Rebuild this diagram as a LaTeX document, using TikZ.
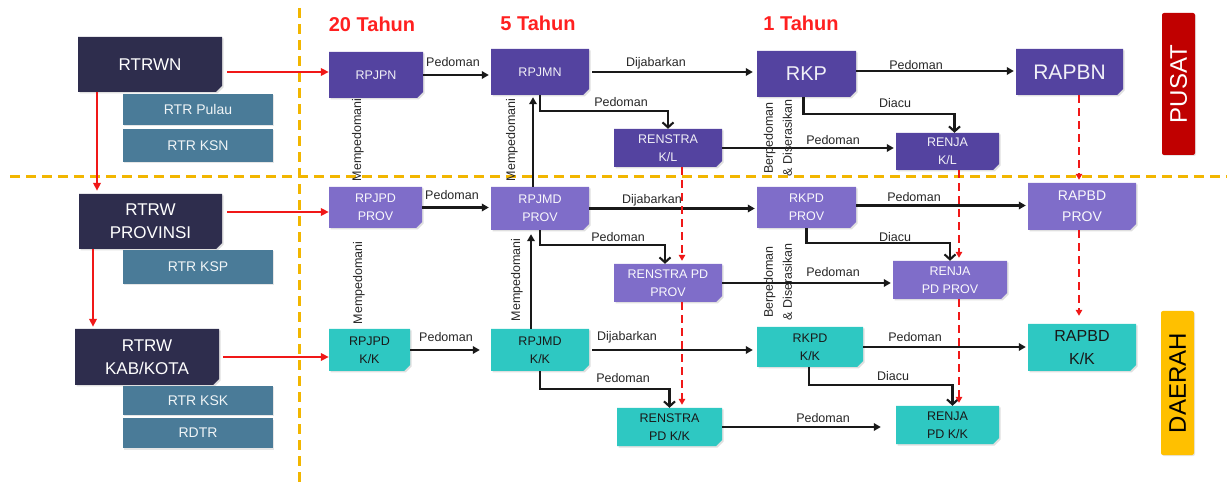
\documentclass[tikz,border=0pt]{standalone}
\usepackage{fontspec}
\setmainfont{Liberation Sans}
\usetikzlibrary{arrows.meta,shapes.misc,shadows}
\definecolor{navybox}{HTML}{2E2D4D}
\definecolor{steelbox}{HTML}{4A7B98}
\definecolor{dpur}{HTML}{5443A0}
\definecolor{lpur}{HTML}{7F6DC9}
\definecolor{tealbox}{HTML}{2EC8C2}
\definecolor{goldline}{HTML}{F2B600}
\definecolor{redl}{HTML}{F01818}
\definecolor{pusatc}{HTML}{C00000}
\definecolor{daerahc}{HTML}{FFC000}
\definecolor{ttlc}{HTML}{FF2020}
\newcommand\setfs[2]{\fontsize{#1}{#2}\selectfont}
\tikzset{
  box/.style={chamfered rectangle, chamfered rectangle corners=south east,
    chamfered rectangle xsep=3pt, chamfered rectangle ysep=3pt, inner sep=0pt, align=center,
    drop shadow={opacity=.25,shadow xshift=1.5pt,shadow yshift=-1.5pt}},
  navy/.style={box, fill=navybox, text=white, font=\setfs{17}{23}},
  rtr/.style={rectangle, fill=steelbox, text=white!92!steelbox, inner sep=0pt,
    minimum width=150, font=\setfs{14}{16},
    drop shadow={opacity=.2,shadow xshift=1pt,shadow yshift=-1.5pt}},
  dp/.style={box, fill=dpur, text=white!92!dpur, font=\setfs{12.5}{18}},
  lp/.style={box, fill=lpur, text=white!95!lpur, font=\setfs{12.5}{18}},
  tl/.style={box, fill=tealbox, text=black!90, font=\setfs{12.5}{18}},
  lbl/.style={font=\setfs{12.5}{14}, text=black!85, inner sep=1pt},
  vlbl/.style={lbl, rotate=90, align=center, font=\setfs{12.5}{19}},
  ttl/.style={font=\bfseries\setfs{20}{24}, text=ttlc},
  blk/.style={draw=black!90, line width=2.1pt, shorten >=2pt, -{Triangle[length=7pt,width=7.5pt]}},
  elb/.style={draw=black!90, line width=2.1pt, -{Straight Barb[length=5pt,width=11pt]}},
  redar/.style={draw=redl, line width=2.2pt, -{Triangle[length=8pt,width=7.5pt]}},
  rdash/.style={draw=redl, line width=2.3pt, dash pattern=on 8pt off 5pt, shorten >=3pt,
    -{Triangle[length=6pt,width=6.5pt]}},
  gl/.style={draw=goldline, line width=3pt, dash pattern=on 10pt off 6pt}
}
\begin{document}
\begin{tikzpicture}[x=1pt,y=-1pt]
\useasboundingbox (0,0) rectangle (1227,486);
% guide lines
\draw[gl] (10,177) -- (1227,177);
\draw[gl] (299,8) -- (299,486);
% titles
\node[ttl] (t20) at (372,24) {20 Tahun};
\node[ttl] (t5) at (538,23) {5 Tahun};
\node[ttl] (t1) at (801,23) {1 Tahun};
% left spatial plans
\node[navy, minimum width=144, minimum height=55] (rtrwn) at (150,64.5) {RTRWN};
\node[rtr, minimum height=31] (pulau) at (198,109.5) {RTR Pulau};
\node[rtr, minimum height=33] (ksn) at (198,145.5) {RTR KSN};
\node[navy, minimum width=143, minimum height=55] (rtrwp) at (150.5,221.5) {RTRW\\PROVINSI};
\node[rtr, minimum height=34] (ksp) at (198,267) {RTR KSP};
\node[navy, minimum width=144, minimum height=56] (rtrwk) at (147,357) {RTRW\\KAB/KOTA};
\node[rtr, minimum height=29] (ksk) at (198,400.5) {RTR KSK};
\node[rtr, minimum height=30] (rdtr) at (198,433) {RDTR};
% column 1
\node[dp, minimum width=94, minimum height=46] (rpjpn) at (376,75) {RPJPN};
\node[lp, minimum width=93, minimum height=41] (rpjpdp) at (375.5,207.5) {RPJPD\\PROV};
\node[tl, minimum width=81, minimum height=42] (rpjpdk) at (369.5,350) {RPJPD\\K/K};
% column 2
\node[dp, minimum width=98, minimum height=46] (rpjmn) at (540,72) {RPJMN};
\node[lp, minimum width=98, minimum height=43] (rpjmdp) at (540,208.5) {RPJMD\\PROV};
\node[tl, minimum width=98, minimum height=42] (rpjmdk) at (540,350) {RPJMD\\K/K};
% column 3
\node[dp, minimum width=108, minimum height=38] (renkl) at (668,148) {RENSTRA\\K/L};
\node[lp, minimum width=108, minimum height=38] (renprov) at (668,283) {RENSTRA PD\\PROV};
\node[tl, minimum width=105, minimum height=38] (renkk) at (669.5,427) {RENSTRA\\PD K/K};
% column 4
\node[dp, minimum width=99, minimum height=46, font=\setfs{20}{22}] (rkp) at (806.5,74) {RKP};
\node[lp, minimum width=99, minimum height=41] (rkpdp) at (806.5,207.5) {RKPD\\PROV};
\node[tl, minimum width=106, minimum height=40] (rkpdk) at (810,347) {RKPD\\K/K};
% column 5
\node[dp, minimum width=103, minimum height=37] (renjakl) at (947.5,151.5) {RENJA\\K/L};
\node[lp, minimum width=114, minimum height=38] (renjap) at (950,280) {RENJA\\PD PROV};
\node[tl, minimum width=103, minimum height=38] (renjak) at (947.5,425) {RENJA\\PD K/K};
% column 6
\node[dp, minimum width=107, minimum height=46, font=\setfs{21}{23}] (rapbn) at (1069.5,72) {RAPBN};
\node[lp, minimum width=108, minimum height=47, font=\setfs{14}{21}] (rapbdp) at (1082,206.5) {RAPBD\\PROV};
\node[tl, minimum width=108, minimum height=47, font=\setfs{16}{23}] (rapbdk) at (1082,347.5) {RAPBD\\K/K};
% side tags
\node[rotate=90, fill=pusatc, rounded corners=2pt, minimum width=142, minimum height=33,
  text=white, font=\setfs{24}{26}, drop shadow={opacity=.2,shadow xshift=1pt,shadow yshift=-1pt}] (pusat) at (1178.5,84) {PUSAT};
\node[rotate=90, fill=daerahc, rounded corners=2pt, minimum width=144, minimum height=33,
  text=black, font=\setfs{24}{26}, drop shadow={opacity=.2,shadow xshift=1pt,shadow yshift=-1pt}] (daerah) at (1177.5,383) {DAERAH};
% red solid arrows
\draw[redar] ([xshift=5pt,yshift=-7.5pt]rtrwn.east) -- ([yshift=3pt]rpjpn.west);
\draw[redar] ([xshift=5pt,yshift=9.5pt]rtrwp.east) -- ([yshift=-4.5pt]rpjpdp.west);
\draw[redar] ([xshift=4pt]rtrwk.east) -- (rtrwk.east -| rpjpdk.west);
\draw[redar, shorten >=3pt] ([xshift=-53pt]rtrwn.south) -- ([xshift=-53.5pt]rtrwp.north);
\draw[redar, shorten >=2pt] ([xshift=-57.5pt]rtrwp.south) -- ([xshift=-54pt]rtrwk.north);
% black horizontal arrows
\draw[blk] (rpjpn.east) -- (rpjpn.east -| rpjmn.west);
\draw[blk, shorten <=3pt, shorten >=4pt] (rpjmn.east) -- (rpjmn.east -| rkp.west);
\draw[blk] ([yshift=3pt]rkp.east) -- ([yshift=3pt]rkp.east -| rapbn.west);
\draw[blk] (renkl.east) -- (renkl.east -| renjakl.west);
\draw[blk] (rpjpdp.east) -- (rpjpdp.east -| rpjmdp.west);
\draw[blk] (rpjmdp.east) -- (rpjmdp.east -| rkpdp.west);
\draw[blk] ([yshift=2pt]rkpdp.east) -- ([yshift=2pt]rkpdp.east -| rapbdp.west);
\draw[blk] (renprov.east) -- (renprov.east -| renjap.west);
\draw[blk, shorten >=11pt] (rpjpdk.east) -- (rpjpdk.east -| rpjmdk.west);
\draw[blk, shorten <=3pt, shorten >=4pt] (rpjmdk.east) -- (rpjmdk.east -| rkpdk.west);
\draw[blk] (rkpdk.east) -- (rkpdk.east -| rapbdk.west);
\draw[blk, shorten >=15pt] (renkk.east) -- (renkk.east -| renjak.west);
% black vertical arrows
\draw[blk] ([xshift=-7pt]rpjmdp.north) -- ([xshift=-7pt]rpjmdp.north |- rpjmn.south);
\draw[blk, shorten >=4pt] ([xshift=-9pt]rpjmdk.north) -- ([xshift=-9pt]rpjmdk.north |- rpjmdp.south);
% elbow arrows
\draw[elb] (rpjmn.south) -- ++(0,16) -| (renkl.north);
\draw[elb] ([xshift=-3pt]rkp.south) -- ++(0,17) -| ([xshift=7pt]renjakl.north);
\draw[elb] (rpjmdp.south) -- ++(0,15) -| ([xshift=-3pt]renprov.north);
\draw[elb] (rkpdp.south) -- ++(0,15) -| (renjap.north);
\draw[elb] (rpjmdk.south) -- ++(0,18) -| (renkk.north);
\draw[elb] ([xshift=-1pt]rkpdk.south) -- ++(0,18) -| ([xshift=5pt]renjak.north);
% red dashed arrows
\draw[rdash] ([xshift=14pt]renkl.south) -- ([xshift=14pt]renkl.south |- renprov.north);
\draw[rdash] ([xshift=14pt]renprov.south) -- ([xshift=14pt]renprov.south |- renkk.north);
\draw[rdash] ([xshift=11.5pt]renjakl.south) -- ([xshift=11.5pt]renjakl.south |- renjap.north);
\draw[rdash] ([xshift=9pt]renjap.south) -- ([xshift=9pt]renjap.south |- renjak.north);
\draw[rdash] ([xshift=9.5pt]rapbn.south) -- ([xshift=9.5pt]rapbn.south |- rapbdp.north);
\draw[rdash, shorten >=8pt] ([xshift=-3pt]rapbdp.south) -- ([xshift=-3pt]rapbdp.south |- rapbdk.north);
% labels
\node[lbl] (l1) at (453,62) {Pedoman};
\node[lbl] (l2) at (656,63) {Dijabarkan};
\node[lbl] (l3) at (916,65) {Pedoman};
\node[lbl] (l4) at (621,102) {Pedoman};
\node[lbl] (l5) at (895,103) {Diacu};
\node[lbl] (l6) at (833,140) {Pedoman};
\node[lbl] (l7) at (452,195) {Pedoman};
\node[lbl] (l8) at (652,200) {Dijabarkan};
\node[lbl] (l9) at (914,197) {Pedoman};
\node[lbl] (l10) at (618,237) {Pedoman};
\node[lbl] (l11) at (895,237) {Diacu};
\node[lbl] (l12) at (833,272) {Pedoman};
\node[lbl] (l13) at (446,337) {Pedoman};
\node[lbl] (l14) at (627,337) {Dijabarkan};
\node[lbl] (l15) at (915,337) {Pedoman};
\node[lbl] (l16) at (623,378) {Pedoman};
\node[lbl] (l17) at (893,376) {Diacu};
\node[lbl] (l18) at (823,418) {Pedoman};
\node[vlbl] (m1) at (358,140) {Mempedomani};
\node[vlbl] (m2) at (512,140) {Mempedomani};
\node[vlbl] (m3) at (359,283) {Mempedomani};
\node[vlbl] (m4) at (517,280) {Mempedomani};
\node[vlbl] (b1) at (778,138) {Berpedoman\\\& Diserasikan};
\node[vlbl] (b2) at (778,282) {Berpedoman\\\& Diserasikan};
\end{tikzpicture}
\end{document}
